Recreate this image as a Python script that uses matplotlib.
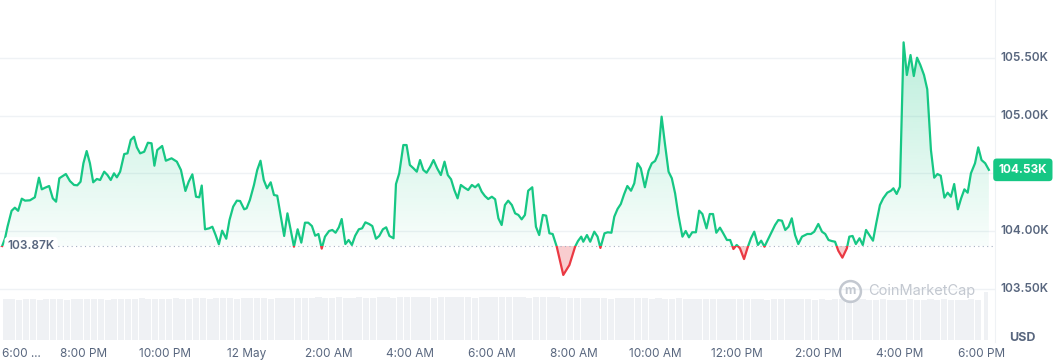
import numpy as np
import matplotlib.pyplot as plt
from matplotlib.patches import Rectangle
from matplotlib.path import Path
from matplotlib.lines import Line2D

plt.rcParams['font.family'] = ['Inter', 'DejaVu Sans']

# hours since 6:00 PM (11 May) and BTC price in USD
hours = [
    0.00, 0.07, 0.13, 0.23, 0.31, 0.39, 0.48, 0.56, 0.68, 0.80, 0.90, 0.97,
    1.05, 1.15, 1.24, 1.32, 1.40, 1.56, 1.66, 1.76, 1.84, 1.92, 1.99, 2.07,
    2.15, 2.23, 2.32, 2.40, 2.50, 2.58, 2.66, 2.74, 2.81, 2.89, 2.99, 3.07,
    3.15, 3.23, 3.30, 3.38, 3.48, 3.57, 3.66, 3.73, 3.80, 3.92, 4.01, 4.15,
    4.28, 4.38, 4.49, 4.57, 4.66, 4.75, 4.83, 4.89, 4.97, 5.07, 5.15, 5.23,
    5.31, 5.39, 5.49, 5.57, 5.66, 5.75, 5.83, 5.93, 5.99, 6.07, 6.17, 6.25,
    6.33, 6.41, 6.49, 6.58, 6.66, 6.74, 6.83, 6.91, 6.99, 7.07, 7.15, 7.24,
    7.33, 7.42, 7.50, 7.59, 7.67, 7.75, 7.83, 7.91, 8.01, 8.09, 8.17, 8.25,
    8.32, 8.41, 8.49, 8.57, 8.65, 8.74, 8.82, 8.90, 8.99, 9.07, 9.16, 9.24,
    9.33, 9.41, 9.49, 9.59, 9.65, 9.73, 9.83, 9.91, 9.99, 10.08, 10.16, 10.24,
    10.32, 10.40, 10.49, 10.57, 10.66, 10.75, 10.84, 10.92, 11.00, 11.08, 11.16, 11.24,
    11.33, 11.42, 11.51, 11.59, 11.67, 11.75, 11.83, 11.91, 12.00, 12.08, 12.16, 12.24,
    12.32, 12.40, 12.49, 12.57, 12.65, 12.73, 12.81, 12.89, 12.99, 13.08, 13.16, 13.25,
    13.33, 13.41, 13.49, 13.59, 13.75, 13.90, 14.04, 14.11, 14.19, 14.24, 14.33, 14.41,
    14.51, 14.59, 14.66, 14.76, 14.84, 14.93, 15.00, 15.08, 15.16, 15.24, 15.32, 15.41,
    15.49, 15.57, 15.65, 15.75, 15.84, 15.92, 16.00, 16.08, 16.16, 16.24, 16.33, 16.41,
    16.49, 16.57, 16.67, 16.75, 16.83, 16.91, 17.00, 17.08, 17.16, 17.26, 17.34, 17.42,
    17.50, 17.59, 17.67, 17.76, 17.84, 17.92, 18.00, 18.08, 18.18, 18.27, 18.35, 18.43,
    18.52, 18.60, 18.68, 18.76, 18.86, 18.94, 19.02, 19.11, 19.19, 19.27, 19.35, 19.43,
    19.51, 19.60, 19.68, 19.73, 19.82, 19.90, 20.00, 20.09, 20.17, 20.25, 20.33, 20.41,
    20.49, 20.59, 20.70, 20.76, 20.84, 20.92, 21.01, 21.09, 21.17, 21.25, 21.34, 21.42,
    21.51, 21.59, 21.69, 21.78, 21.84, 21.92, 22.00, 22.09, 22.17, 22.26, 22.34, 22.42,
    22.50, 22.59, 22.67, 22.76, 22.84, 22.92, 23.00, 23.09, 23.17, 23.25, 23.33, 23.42,
    23.50, 23.58, 23.66, 23.74, 23.84, 23.92, 24.00, 24.09, 24.18,
]
price = [
    103870, 103937, 104037, 104175, 104202, 104175, 104280, 104263, 104266, 104292, 104462, 104361,
    104375, 104390, 104283, 104254, 104457, 104494, 104433, 104399, 104396, 104427, 104587, 104693,
    104587, 104422, 104451, 104442, 104514, 104485, 104442, 104500, 104465, 104514, 104667, 104673,
    104789, 104817, 104725, 104673, 104687, 104765, 104760, 104566, 104702, 104737, 104609, 104630,
    104601, 104529, 104347, 104427, 104491, 104297, 104292, 104394, 104015, 104023, 104037, 103965,
    103885, 104003, 103933, 104095, 104211, 104263, 104260, 104188, 104197, 104269, 104399, 104529,
    104609, 104442, 104370, 104422, 104312, 104306, 104124, 103957, 104153, 104009, 103864, 104015,
    103899, 104072, 104072, 104043, 103959, 103974, 103847, 103951, 104000, 104009, 103985, 104032,
    104104, 103887, 103922, 103879, 103959, 104015, 104023, 104075, 104061, 104043, 103933, 103957,
    104015, 104032, 103957, 103937, 104407, 104500, 104745, 104745, 104572, 104543, 104514, 104615,
    104529, 104505, 104557, 104615, 104543, 104485, 104601, 104485, 104448, 104355, 104283, 104399,
    104375, 104355, 104399, 104379, 104405, 104341, 104303, 104277, 104297, 104275, 104110, 104052,
    104225, 104263, 104225, 104153, 104139, 104101, 104139, 104349, 104379, 104037, 103965, 104139,
    104133, 103980, 103974, 103864, 103619, 103705, 103864, 103913, 103951, 103907, 103965, 103907,
    103994, 103951, 103853, 103980, 103989, 103985, 104124, 104191, 104234, 104318, 104390, 104349,
    104413, 104587, 104543, 104379, 104523, 104587, 104607, 104673, 104991, 104760, 104514, 104457,
    104327, 104139, 103951, 104000, 103945, 103989, 103989, 104176, 104147, 104023, 104147, 104147,
    103985, 104029, 103980, 103922, 103922, 103844, 103879, 103850, 103757, 103859, 103937, 103994,
    103879, 103916, 103864, 103922, 103994, 104052, 104095, 104089, 104009, 104037, 104110, 103965,
    103887, 103951, 103965, 103974, 103974, 103994, 104061, 103994, 103974, 103922, 103913, 103907,
    103829, 103769, 103850, 103951, 103957, 103887, 103937, 103879, 104009, 103965, 103916, 104067,
    104225, 104283, 104332, 104349, 104370, 104321, 104384, 105635, 105352, 105525, 105343, 105502,
    105439, 105352, 105228, 104702, 104462, 104494, 104479, 104289, 104332, 104297, 104407, 104188,
    104283, 104361, 104332, 104500, 104587, 104725, 104615, 104587, 104530,
]
base_price = 103870
last_price = 104530

# volume bars, one per 10 minutes (relative height)
volume = [
    41, 41, 40, 41, 41, 40, 41, 41, 41, 40, 41, 41,
    41, 41, 41, 40, 41, 41, 41, 41, 42, 41, 41, 41,
    41, 42, 41, 41, 42, 42, 41, 42, 42, 42, 41, 42,
    42, 42, 42, 41, 42, 42, 42, 42, 42, 42, 43, 42,
    42, 43, 42, 42, 43, 42, 42, 43, 43, 42, 43, 43,
    43, 43, 43, 42, 43, 43, 43, 43, 43, 42, 43, 43,
    43, 43, 43, 43, 43, 42, 43, 43, 43, 43, 42, 42,
    42, 42, 42, 42, 42, 41, 42, 42, 42, 42, 42, 41,
    42, 41, 41, 42, 41, 41, 41, 41, 41, 41, 41, 41,
    41, 41, 41, 41, 40, 41, 41, 41, 41, 41, 41, 40,
    41, 40, 41, 41, 40, 40, 41, 40, 40, 41, 40, 40,
    40, 41, 40, 40, 41, 40, 41, 40, 40, 40, 41, 40,
]
last_volume = 48

tick_hours = [0, 2, 4, 6, 8, 10, 12, 14, 16, 18, 20, 22, 24]
tick_labels = ['6:00 ...', '8:00 PM', '10:00 PM', '12 May', '2:00 AM', '4:00 AM',
               '6:00 AM', '8:00 AM', '10:00 AM', '12:00 PM', '2:00 PM', '4:00 PM', '6:00 PM']
grid_prices = [103500, 104000, 104500, 105000, 105500]
label_prices = [103500, 104000, 105000, 105500]
label_texts = ['103.50K', '104.00K', '105.00K', '105.50K']

GREEN = '#16c784'
RED = '#ea3943'
GRAY = '#58667e'
GRID = '#eff2f5'

W, H = 1061, 363
fig = plt.figure(figsize=(W / 100, H / 100), dpi=100)
xmin, xmax = -0.054, 24.33

# volume panel
axv = fig.add_axes([0, (H - 340) / H, 995 / W, 50 / H])
vol_hours = np.arange(len(volume)) / 6 + 1 / 12
axv.bar(vol_hours, volume, width=0.15, color='#eff1f4', linewidth=0)
axv.bar([24.12], [last_volume], width=0.1, color='#eff1f4', linewidth=0)
axv.set_xlim(xmin, xmax)
axv.set_ylim(0, 50)
for s in axv.spines.values():
    s.set_visible(False)
axv.set_yticks([])
axv.set_xticks(tick_hours)
axv.set_xticklabels(tick_labels, fontsize=8.5, color=GRAY)
axv.tick_params(axis='x', length=0, pad=6)
axv.get_xticklabels()[0].set_horizontalalignment('left')
axv.patch.set_alpha(0)

# price panel
ax = fig.add_axes([0, (H - 342) / H, 995 / W, 342 / H])
ax.patch.set_alpha(0)
ax.set_xlim(xmin, xmax)
ax.set_ylim(103038, 106002)
for s in ['top', 'left', 'bottom']:
    ax.spines[s].set_visible(False)
ax.spines['right'].set_color(GRID)
ax.set_xticks([])
ax.set_yticks([])
for g in grid_prices:
    ax.axhline(g, color=GRID, lw=1, zorder=0)

h = np.array(hours)
p = np.array(price)

# green gradient area above the open price
up = ax.fill_between(h, p, base_price, where=p >= base_price, interpolate=True,
                     facecolor='none', edgecolor='none')
top = 105700
n = 256
alpha = np.linspace(0.03, 0.30, n)
rgba = np.zeros((n, 1, 4))
rgba[:, 0, 0] = 22 / 255
rgba[:, 0, 1] = 199 / 255
rgba[:, 0, 2] = 132 / 255
rgba[:, 0, 3] = alpha
im = ax.imshow(rgba, extent=[xmin, xmax, base_price, top], origin='lower',
               aspect='auto', zorder=1, interpolation='bilinear')
im.set_clip_path(Path.make_compound_path(*up.get_paths()), transform=ax.transData)

# red area below
ax.fill_between(h, p, base_price, where=p < base_price, interpolate=True,
                facecolor=RED, alpha=0.25, edgecolor='none', zorder=1)

# line, green above / red below the open price
above = Rectangle((xmin, base_price), xmax - xmin, 5000, transform=ax.transData)
below = Rectangle((xmin, base_price - 5000), xmax - xmin, 5000, transform=ax.transData)
lg, = ax.plot(h, p, color=GREEN, lw=1.6, zorder=3, solid_joinstyle='round')
lg.set_clip_path(above)
lr, = ax.plot(h, p, color=RED, lw=1.6, zorder=3, solid_joinstyle='round')
lr.set_clip_path(below)

# open price dotted line and label
ax.axhline(base_price, color='#a6b0c3', lw=0.8, linestyle=(0, (1, 3)), zorder=2)
ax.text(0.13, base_price, '103.87K', ha='left', va='center', fontsize=8.5,
        color=GRAY, fontweight='semibold', zorder=4,
        bbox=dict(boxstyle='round,pad=0.25', fc='white', ec='none'))

# right price labels
ytr = ax.get_yaxis_transform()
for g, lab in zip(label_prices, label_texts):
    ax.text(1.005, g, lab, transform=ytr, ha='left', va='center',
            fontsize=8.5, color=GRAY, fontweight='semibold')
ax.text(1.028, last_price, '104.53K', transform=ytr, ha='center', va='center',
        fontsize=8.5, color='white', fontweight='bold',
        bbox=dict(boxstyle='round,pad=0.45,rounding_size=0.3', fc=GREEN, ec='none'))
fig.text(1022 / W, 1 - 338 / H, 'USD', ha='center', va='center', fontsize=9,
         color=GRAY, fontweight='bold')

# watermark
wm = '#c3c8d0'
fig.add_artist(Line2D([850 / W], [1 - 291 / H], marker='o', ms=15, mfc='none',
                      mec=wm, mew=1.8, transform=fig.transFigure))
fig.text(850 / W, 1 - 291 / H, 'm', ha='center', va='center', fontsize=9,
         color=wm, fontweight='bold')
fig.text(868 / W, 1 - 291 / H, 'CoinMarketCap', ha='left', va='center',
         fontsize=10.5, color=wm)

fig.savefig('out.png', dpi=100)
